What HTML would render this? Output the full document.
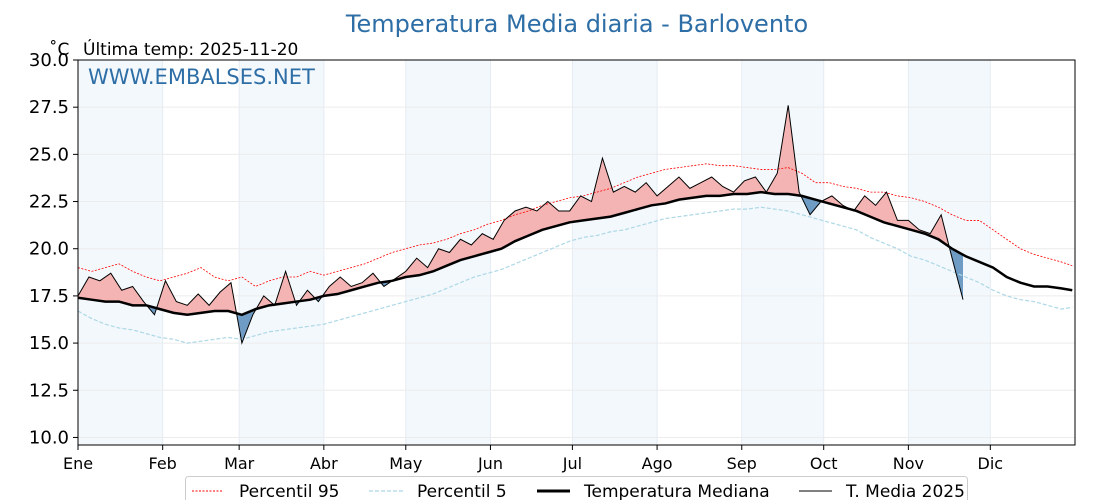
<!DOCTYPE html>
<html><head><meta charset="utf-8"><style>
body{margin:0;background:#fff;font-family:"DejaVu Sans","Liberation Sans",sans-serif;}
svg text{font-family:"DejaVu Sans","Liberation Sans",sans-serif;}
</style></head><body>
<svg id="chart" width="1120" height="500" xmlns="http://www.w3.org/2000/svg">
<text x="577" y="32" text-anchor="middle" font-size="24" fill="#2e6ea6">Temperatura Media diaria - Barlovento</text>
<text x="49" y="55" font-size="17" fill="#000">˚C</text>
<text x="83" y="55" font-size="17" fill="#000">Última temp: 2025-11-20</text>
<g id="bands"></g><g id="grid"></g><g id="series"></g>
<rect x="78" y="60" width="997" height="385" fill="none" stroke="#000" stroke-width="1"/>
<text x="88" y="84" font-size="21" fill="#2e6ea6">WWW.EMBALSES.NET</text>
<g id="axes"></g>
<g>
<rect x="185.5" y="476.5" width="782" height="30" rx="3" fill="#fff" stroke="#ccc"/>
<line x1="192" y1="491" x2="222" y2="491" stroke="red" stroke-width="1" stroke-dasharray="2,1.5"/>
<text x="239" y="497" font-size="17">Percentil 95</text>
<line x1="369" y1="491" x2="403" y2="491" stroke="#add8e6" stroke-width="1.3" stroke-dasharray="4,2"/>
<text x="417" y="497" font-size="17">Percentil 5</text>
<line x1="537" y1="491" x2="570" y2="491" stroke="#000" stroke-width="3"/>
<text x="584" y="497" font-size="17">Temperatura Mediana</text>
<line x1="799" y1="491" x2="832" y2="491" stroke="#000" stroke-width="1"/>
<text x="846" y="497" font-size="17">T. Media 2025</text>
</g>
</svg>
<script>
const months=["Ene","Feb","Mar","Abr","May","Jun","Jul","Ago","Sep","Oct","Nov","Dic"];
const monthStart=[0,31,59,90,120,151,181,212,243,273,304,334];
const yTicks=[10,12.5,15,17.5,20,22.5,25,27.5,30];
const stepClim=5;
const median=[17.4,17.3,17.2,17.2,17.0,17.0,16.8,16.6,16.5,16.6,16.7,16.7,16.5,16.8,17.0,17.1,17.2,17.3,17.5,17.6,17.8,18.0,18.2,18.3,18.5,18.6,18.8,19.1,19.4,19.6,19.8,20.0,20.4,20.7,21.0,21.2,21.4,21.5,21.6,21.7,21.9,22.1,22.3,22.4,22.6,22.7,22.8,22.8,22.9,22.9,23.0,22.9,22.9,22.8,22.6,22.4,22.2,22.0,21.7,21.4,21.2,21.0,20.8,20.5,20.0,19.6,19.3,19.0,18.5,18.2,18.0,18.0,17.9,17.8];
const p95=[19.0,18.8,19.0,19.2,18.8,18.5,18.3,18.5,18.7,19.0,18.5,18.3,18.5,18.0,18.3,18.5,18.5,18.8,18.6,18.8,19.0,19.2,19.5,19.8,20.0,20.2,20.3,20.5,20.8,21.0,21.3,21.5,21.8,22.0,22.3,22.5,22.7,22.8,23.0,23.2,23.5,23.8,24.0,24.2,24.3,24.4,24.5,24.4,24.4,24.3,24.2,24.2,24.3,24.0,23.5,23.5,23.3,23.2,23.0,23.0,22.8,22.7,22.5,22.2,21.8,21.5,21.5,21.0,20.5,20.0,19.7,19.5,19.3,19.1];
const p5=[16.7,16.3,16.0,15.8,15.7,15.5,15.3,15.2,15.0,15.1,15.2,15.3,15.2,15.4,15.6,15.7,15.8,15.9,16.0,16.2,16.4,16.6,16.8,17.0,17.2,17.4,17.6,17.9,18.2,18.5,18.7,18.9,19.2,19.5,19.8,20.1,20.4,20.6,20.7,20.9,21.0,21.2,21.4,21.6,21.7,21.8,21.9,22.0,22.1,22.1,22.2,22.1,22.0,21.8,21.6,21.4,21.2,21.0,20.6,20.3,20.0,19.6,19.4,19.1,18.8,18.5,18.2,17.8,17.5,17.3,17.2,17.0,16.8,16.9];
const step2025=4;
const t2025=[17.5,18.5,18.3,18.7,17.8,18.0,17.2,16.5,18.3,17.2,17.0,17.6,17.0,17.7,18.2,15.0,16.5,17.5,17.0,18.8,17.0,17.8,17.2,18.0,18.5,18.0,18.2,18.7,18.0,18.4,18.8,19.5,19.0,20.0,19.8,20.5,20.2,20.8,20.5,21.5,22.0,22.2,22.0,22.5,22.0,22.0,22.8,22.5,24.8,23.0,23.3,23.0,23.5,22.8,23.3,23.8,23.2,23.5,23.8,23.3,23.0,23.6,23.8,23.0,24.0,27.6,23.0,21.8,22.5,22.8,22.3,22.0,22.8,22.3,23.0,21.5,21.5,21.0,20.8,21.8,19.5,17.3];
const X=d=>78+d*997/365, Y=v=>60+(30-v)*385/20.4;
const NS="http://www.w3.org/2000/svg";
function mk(tag,attrs,parent){const e=document.createElementNS(NS,tag);for(const k in attrs)e.setAttribute(k,attrs[k]);parent.appendChild(e);return e;}
const bands=document.getElementById('bands'),grid=document.getElementById('grid'),ser=document.getElementById('series'),axes=document.getElementById('axes');
monthStart.forEach((m,i)=>{
  const end=i<11?monthStart[i+1]:365;
  if(i%2===0&&i<11){const r=mk('rect',{x:X(m),y:60,width:X(end)-X(m),height:385,fill:'#f3f8fc'},bands);
  
  }
  const g=mk('line',{x1:X(m),x2:X(m),y1:60,y2:445,stroke:'#e4ecf3','stroke-width':1},grid);
  
  
  const t=mk('line',{x1:X(m),x2:X(m),y1:445,y2:450,stroke:'#000'},axes);
  
  
  const l=mk('text',{x:X(m),y:469,'font-size':16,'text-anchor':'middle'},axes);l.textContent=months[i];
  
  
});
yTicks.forEach(v=>{
  const g=mk('line',{x1:78,x2:1075,y1:Y(v),y2:Y(v),stroke:'#ececec'},grid);
  
  
  const t=mk('line',{x1:73,x2:78,y1:Y(v),y2:Y(v),stroke:'#000'},axes);
  
  
  const l=mk('text',{x:69,y:Y(v)+6,'font-size':18,'text-anchor':'end'},axes);l.textContent=v.toFixed(1);
  
  
});
function pts(arr,step){return arr.map((v,i)=>[X(Math.min(i*step,364)),Y(v)]);}
function interpMedian(d){const i=Math.floor(d/stepClim),f=d/stepClim-i;const a=median[Math.min(i,median.length-1)],b=median[Math.min(i+1,median.length-1)];return a+(b-a)*f;}
const mP=pts(median,stepClim), tP=pts(t2025,step2025);
const last=(t2025.length-1)*step2025;
let area=tP.map(p=>p.join(',')).join(' ');
const mb=[];for(let d=last;d>=0;d-=1)mb.push(X(d)+','+Y(interpMedian(d)));
area+=' '+mb.join(' ');
const defs=mk('defs',{},ser);
const medTop=mP.map(p=>p.join(',')).join(' ');
const cA=mk('clipPath',{id:'above'},defs);mk('polygon',{points:'78,60 '+medTop+' 1075,60'},cA);
const cB=mk('clipPath',{id:'below'},defs);mk('polygon',{points:'78,445 '+medTop+' 1075,445'},cB);
const a1=mk('polygon',{points:area,fill:'#f4b4b4','clip-path':'url(#above)'},ser);


const a2=mk('polygon',{points:area,fill:'#6f9cc4','clip-path':'url(#below)'},ser);


const l95=mk('polyline',{points:pts(p95,stepClim).map(p=>p.join(',')).join(' '),fill:'none',stroke:'red','stroke-width':0.8,'stroke-dasharray':'2,1.5'},ser);


const l5=mk('polyline',{points:pts(p5,stepClim).map(p=>p.join(',')).join(' '),fill:'none',stroke:'#add8e6','stroke-width':1.2,'stroke-dasharray':'4,2'},ser);


const lm=mk('polyline',{points:medTop,fill:'none',stroke:'#000','stroke-width':2.5},ser);


const lt=mk('polyline',{points:area.split(' ').slice(0,tP.length).join(' '),fill:'none',stroke:'#000','stroke-width':1},ser);


</script>
</body></html>
